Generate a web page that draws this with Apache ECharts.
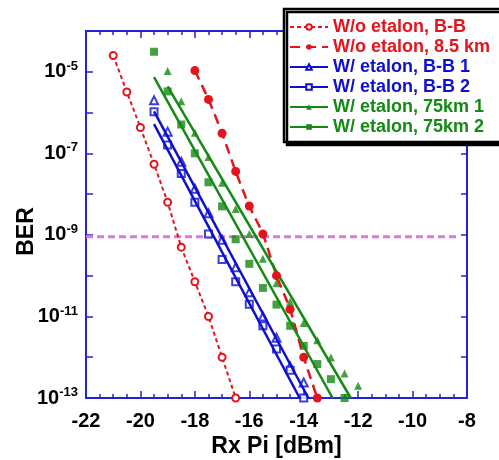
<!DOCTYPE html>
<html>
<head>
<meta charset="utf-8">
<script src="https://cdn.jsdelivr.net/npm/echarts@6/dist/echarts.min.js"></script>
<style>html,body{margin:0;padding:0;background:#fff;}#c{width:499px;height:460px;}</style>
</head>
<body>
<div id="c"></div>
<script>
// ---- data (x: Rx power in dBm, y: BER) ----
var xBB0 = [-21, -20.5, -20, -19.5, -19, -18.5, -18, -17.5, -17, -16.5];
var berBB0 = [2.5e-5, 3.2e-6, 4.3e-7, 5.4e-8, 6.3e-9, 5.0e-10, 7.1e-11, 1.0e-11, 1.0e-12, 1.0e-13];

var x85 = [-18, -17.5, -17, -16.5, -16, -15.5, -15, -14.5, -14, -13.5];
var ber85 = [1.07e-5, 2.1e-6, 3.1e-7, 3.6e-8, 5.1e-9, 1.05e-9, 1.0e-10, 1.5e-11, 1.0e-12, 1.0e-13];

var xBB1 = [-19.5, -19, -18.5, -18, -17.5, -17, -16.5, -16, -15.5, -15, -14.5, -14];
var berBB1 = [2.0e-6, 3.4e-7, 6.2e-8, 1.35e-8, 3.4e-9, 7.6e-10, 1.6e-10, 3.9e-11, 1.0e-11, 3.0e-12, 5.9e-13, 2.4e-13];

var xBB2 = [-19.5, -19, -18.5, -18, -17.5, -17, -16.5, -16, -15.5, -15, -14.5, -14];
var berBB2 = [1.05e-6, 1.6e-7, 3.2e-8, 6.3e-9, 1.05e-9, 2.5e-10, 7.1e-11, 2.0e-11, 5.9e-12, 1.6e-12, 4.8e-13, 1.0e-13];

var x75a = [-19, -18.5, -18, -17.5, -17, -16.5, -16, -15.5, -15, -14.5, -14, -13.5, -13, -12.5, -12];
var ber75a = [1.05e-5, 1.9e-6, 3.2e-7, 8.1e-8, 1.9e-8, 4.3e-9, 1.05e-9, 2.6e-10, 6.5e-11, 2.3e-11, 6.9e-12, 2.6e-12, 9.8e-13, 4.0e-13, 2.0e-13];

var x75b = [-19.5, -19, -18.5, -18, -17.5, -17, -16.5, -16, -15.5, -15, -14.5, -14, -13.5, -13, -12.5];
var ber75b = [3.1e-5, 3.3e-6, 5.1e-7, 1.0e-7, 1.95e-8, 5.0e-9, 7.8e-10, 1.95e-10, 5.0e-11, 1.95e-11, 5.9e-12, 1.9e-12, 6.8e-13, 2.9e-13, 1.0e-13];

// linear fits (end points) drawn for the etalon series
var fitBB1X = [-19.5, -13.83], fitBB1Y = [1.07e-6, 1.0e-13];
var fitBB2X = [-19.5, -14.15], fitBB2Y = [5.2e-7, 1.0e-13];
var fit75aX = [-19.0, -12.27], fit75aY = [4.4e-6, 1.0e-13];
var fit75bX = [-19.5, -12.94], fit75bY = [7.4e-6, 1.0e-13];

// BER threshold line across the x range
var thresholdX = [-22, -8.3];
var thresholdY = [9e-10, 9e-10];

var names = ['W/o etalon, B-B', 'W/o etalon, 8.5 km', 'W/ etalon, B-B 1', 'W/ etalon, B-B 2', 'W/ etalon, 75km 1', 'W/ etalon, 75km 2'];
var xTicks = [-22, -20, -18, -16, -14, -12, -10, -8];

// ---- styles ----
var RED = '#e5141c', BLUE = '#0f0fd2', GREEN = '#148a14', AXIS = '#2323d6';
var FONT = 'Liberation Sans, Arial';
function zip(a, b) { return a.map(function (v, i) { return [v, b[i]]; }); }

var chart = echarts.init(document.getElementById('c'), null, { renderer: 'canvas' });

var axisCommon = {
  axisLine: { show: true, onZero: false, lineStyle: { color: AXIS, width: 2 } },
  splitLine: { show: false },
  nameMoveOverlap: false
};

var option = {
  animation: false,
  backgroundColor: '#fff',
  grid: { left: 86, right: 32, top: 31, bottom: 62, containLabel: false, outerBoundsMode: 'none' },
  xAxis: [
    Object.assign({}, axisCommon, {
      type: 'value', position: 'bottom', min: -22, max: -8, interval: 2,
      axisTick: { show: true, inside: true, length: 7, lineStyle: { color: AXIS, width: 1.5 } },
      minorTick: { show: true, splitNumber: 4, length: 4, lineStyle: { color: AXIS, width: 1.5 } },
      axisLabel: { color: '#000', fontFamily: FONT, fontWeight: 'bold', fontSize: 20, margin: 13,
        formatter: function (v) { return xTicks.indexOf(v) >= 0 ? String(v) : ''; } },
      name: 'Rx Pi [dBm]', nameLocation: 'middle', nameGap: 37,
      nameTextStyle: { color: '#000', fontFamily: FONT, fontWeight: 'bold', fontSize: 23 }
    }),
    Object.assign({}, axisCommon, {
      type: 'value', position: 'top', min: -22, max: -8, interval: 2,
      axisTick: { show: true, inside: true, length: 7, lineStyle: { color: AXIS, width: 1.5 } },
      minorTick: { show: true, splitNumber: 4, length: 4, lineStyle: { color: AXIS, width: 1.5 } },
      axisLabel: { show: false }
    })
  ],
  yAxis: [
    Object.assign({}, axisCommon, {
      type: 'log', logBase: 10, min: 1e-13, max: 1e-4, interval: 1, position: 'left',
      axisTick: { show: true, inside: true, length: 7, lineStyle: { color: AXIS, width: 1.5 } },
      axisLabel: {
        color: '#000', margin: 8,
        formatter: function (v) {
          var e = Math.round(Math.log(v) / Math.LN10);
          if (e % 2 === 0) return '';
          return '{b|10}{s|' + e + '}';
        },
        rich: {
          b: { fontFamily: FONT, fontWeight: 'bold', fontSize: 20, color: '#000' },
          s: { fontFamily: FONT, fontWeight: 'bold', fontSize: 13, color: '#000', padding: [0, 0, 11, 0] }
        }
      },
      name: 'BER', nameLocation: 'middle', nameGap: 48, nameRotate: 90,
      nameTextStyle: { color: '#000', fontFamily: FONT, fontWeight: 'bold', fontSize: 23, padding: [0, 34, 0, 0] }
    }),
    Object.assign({}, axisCommon, {
      type: 'log', logBase: 10, min: 1e-13, max: 1e-4, interval: 1, position: 'right',
      axisTick: { show: true, inside: true, length: 6, lineStyle: { color: AXIS, width: 1.5 } },
      axisLabel: { show: false }
    })
  ],
  legend: {
    orient: 'vertical', left: 284, top: 9,
    padding: [9, 30, 6, 5], itemGap: 2, itemWidth: 38, itemHeight: 7,
    backgroundColor: '#fff', borderColor: '#000', borderWidth: 2.5, borderRadius: 0,
    shadowColor: '#000', shadowBlur: 0, shadowOffsetX: 3, shadowOffsetY: 3,
    textStyle: { fontFamily: FONT, fontWeight: 'bold', fontSize: 18 },
    data: [
      { name: names[0], textStyle: { color: RED } },
      { name: names[1], textStyle: { color: RED } },
      { name: names[2], textStyle: { color: BLUE } },
      { name: names[3], textStyle: { color: BLUE } },
      { name: names[4], textStyle: { color: GREEN } },
      { name: names[5], textStyle: { color: GREEN } }
    ]
  },
  series: [
    {
      name: 'threshold', type: 'line', data: zip(thresholdX, thresholdY),
      showSymbol: false, symbol: 'none', silent: true, z: 1,
      lineStyle: { color: '#d97ad9', width: 3, type: [7, 4] }
    },
    {
      name: names[0], type: 'line', data: zip(xBB0, berBB0),
      symbol: 'emptyCircle', symbolSize: 7, showSymbol: true,
      lineStyle: { color: RED, width: 2, type: [4, 3] },
      itemStyle: { color: RED, borderWidth: 1.5 }, z: 3
    },
    {
      name: names[1], type: 'line', data: zip(x85, ber85), smooth: 0.25,
      symbol: 'circle', symbolSize: 9, showSymbol: true,
      lineStyle: { color: RED, width: 2.5, type: [10, 6] },
      itemStyle: { color: RED }, z: 3
    },
    {
      name: names[2], type: 'line', data: zip(fitBB1X, fitBB1Y),
      symbol: 'emptyTriangle', showSymbol: false,
      lineStyle: { color: BLUE, width: 2.5 }, itemStyle: { color: BLUE }
    },
    {
      name: names[3], type: 'line', data: zip(fitBB2X, fitBB2Y),
      symbol: 'emptyRect', showSymbol: false,
      lineStyle: { color: BLUE, width: 2.5 }, itemStyle: { color: BLUE }
    },
    {
      name: names[4], type: 'line', data: zip(fit75aX, fit75aY),
      symbol: 'triangle', showSymbol: false,
      lineStyle: { color: GREEN, width: 2.5 }, itemStyle: { color: GREEN }
    },
    {
      name: names[5], type: 'line', data: zip(fit75bX, fit75bY),
      symbol: 'rect', showSymbol: false,
      lineStyle: { color: GREEN, width: 2.5 }, itemStyle: { color: GREEN }
    },
    {
      name: 'pts-bb1', type: 'scatter', data: zip(xBB1, berBB1),
      symbol: 'emptyTriangle', symbolSize: 8, itemStyle: { color: BLUE, borderWidth: 1.3 }
    },
    {
      name: 'pts-bb2', type: 'scatter', data: zip(xBB2, berBB2),
      symbol: 'emptyRect', symbolSize: 7, itemStyle: { color: BLUE, borderWidth: 1.3 }
    },
    {
      name: 'pts-75a', type: 'scatter', data: zip(x75a, ber75a),
      symbol: 'triangle', symbolSize: 8, itemStyle: { color: GREEN }
    },
    {
      name: 'pts-75b', type: 'scatter', data: zip(x75b, ber75b),
      symbol: 'rect', symbolSize: 8, itemStyle: { color: GREEN }
    }
  ]
};
chart.setOption(option);
</script>
</body>
</html>
